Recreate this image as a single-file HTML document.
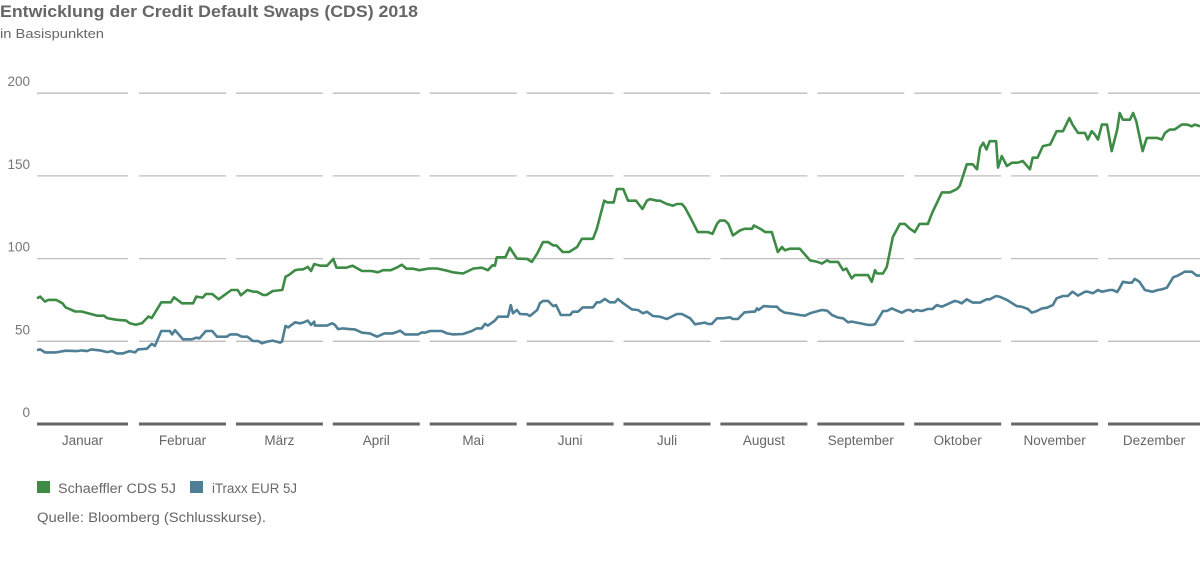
<!DOCTYPE html>
<html><head><meta charset="utf-8"><style>
html,body{margin:0;padding:0;background:#fff;width:1200px;height:580px;overflow:hidden}
svg text{font-family:"Liberation Sans",sans-serif}
</style></head><body>
<svg id="chart" width="1200" height="580" viewBox="0 0 1200 580" xmlns="http://www.w3.org/2000/svg">
<text x="0" y="17" font-size="17" font-weight="bold" fill="#666" textLength="418" lengthAdjust="spacingAndGlyphs">Entwicklung der Credit Default Swaps (CDS) 2018</text>
<text x="0" y="38" font-size="13" fill="#666" textLength="104" lengthAdjust="spacingAndGlyphs">in Basispunkten</text>
<g id="grid"></g><g id="yticks"></g><g id="months"></g><g id="series"></g>
<rect x="37" y="481" width="13" height="12" fill="#3d8b45"/>
<text x="58" y="493" font-size="13.5" fill="#666" textLength="118" lengthAdjust="spacingAndGlyphs">Schaeffler  CDS 5J</text>
<rect x="190" y="481" width="13" height="12" fill="#4f7f94"/>
<text x="212" y="493" font-size="13.5" fill="#666" textLength="85" lengthAdjust="spacingAndGlyphs">iTraxx EUR 5J</text>
<text x="37" y="522" font-size="13.5" fill="#666" textLength="229" lengthAdjust="spacingAndGlyphs">Quelle: Bloomberg (Schlusskurse).</text>
</svg>
<script>
const months=["Januar","Februar","März","April","Mai","Juni","Juli","August","September","Oktober","November","Dezember"];
const yTicks=[0,50,100,150,200];
const schaefflerDays=[0,1,2.5,3.5,6,8,9,12,14,16,19,21,22,25,28,29,31,33,35,36,39,42,43,45.5,49,50,52,53,55,57,61,63,64,66,68,69,71,72,74,77,78,79,81,82.5,83.5,85,86,87,89,91,93,94,97,99,102,105,107,108.6,111,113,114.5,116,118,120,123,125.5,128.7,130.5,133.7,137,139.6,141.5,143,143.7,144.3,147,148.4,150.6,153.8,155.3,157,158.8,160.4,162,163,165,167,169.5,171,174.5,175.7,178,179,181,182,184,185.5,188,190,191.4,192.4,194.6,195.5,197.7,199.6,200.8,202.4,203.3,205,207.4,209.6,210.6,212,213.4,214.3,215.9,217,218.4,220.6,222,224.4,225,227,228.6,230.6,232.5,233.8,234.7,236.3,239.4,242.6,245,246.3,248,248.8,251.4,253,254,255.7,256.7,260.8,262,263,263.6,265.5,266.7,268.6,270.8,272.4,274,275.5,277,279.6,281,284,286.5,288.7,289.6,291.8,293.7,295,296,297,298,299,301,301.6,302.8,304.4,306,307.8,309.4,311.6,312.5,314,315.7,318,320,322,324,325,326.7,328.9,329.8,331,332,333,334.2,335.8,337.3,339,339.8,340.8,343,344,345,347,348.3,351.5,353,354,355.5,357,359.3,361,362.4,363.4,365];
const schaefflerValues=[76,77,74,75,75,73,70.5,68,68,67,65.5,65.5,64,63,62.5,61,60,61,65,64,73.6,73.6,76.6,73,73,77,76.4,78.6,78.6,75.4,81,81,77.8,81,80,80,78,78,80.4,81,89,90,93,93.5,93.5,95,92.5,96.7,95.7,95.7,99.8,94.5,94.5,95.7,92.5,92.5,91.7,93,93,94.7,96.3,93.9,93.9,93,94,94,92.7,91.7,91,94,94.5,93,96,95.7,100.8,100.8,106.6,100,99.8,98,103,110,110,108,108,104,104,107,112,112,118,135,134,134,142,142,135,135,130,135,136,135,135,133,132,133,133,131,125,116,116,116,115,121,123,123,121,114,117,118,118,120,118,116,116,104,107,105,106,106,99,98,97,99,98,98,93,94,88,90,90,86,93,91,91,95,113,121,121,118,116,121,121,128,140,140,142,144,157,157,154,167,170,166,171,171,155,162,156,158,158,159,154,161,161,168,169,177,177,185,181,176,176,172,177,175,172,181,181,165,178,188,184,184,188,183,165,173,173,172,176,178,178,181,181,180,181,180];
const itraxxDays=[0,1,2.5,6,9,12.5,14,15.7,17,19.8,22,23.5,25,27,29,30.8,31.7,34.5,36,37,39,41.7,42.4,43.3,45.8,48.6,50,51,53,55,56.5,59.6,60.6,62.8,64.3,66,67.8,69.4,70.6,72.2,74,76.3,76.9,78,78.8,81,82.5,83.5,85,86,87,87.2,91,92.6,93.5,94.5,96,98,99.8,102,104.5,106.7,109,111.7,114,115.5,119.6,120.8,121.8,123.3,127,128.7,130.5,133.7,136.5,138,139.6,140.6,141.5,143.7,144.7,147.8,148.7,149.4,150.6,151.6,153.8,154.7,157,157.8,158.8,160.4,162,162.9,164.4,167.3,168.2,169.8,171.3,174.5,175.7,176.7,178.2,179.8,181.4,182.3,184,186.7,188.6,190.2,191.4,193.3,195.5,197.7,200.8,202.4,205,206.5,209.6,210.6,211.8,213.4,215.3,217.5,218.4,220,222,224.4,225.3,226,226.5,228,230.6,232.2,233.2,234.7,236.3,239.4,241,242.6,246.3,248,249.5,251.4,253,254.5,255.7,260.8,262,263,265.5,266.7,268.3,269.9,271.4,273,274,275,276,277.7,279.6,281,282.4,284,288,289,290.2,291.8,293.7,296,298,299,301,302,304.4,307.5,309,311,312.2,313.8,315.4,317,318.8,320,322,323.5,325,326.7,328.9,329.8,331.4,333,334.2,336.7,337.6,339,339.8,340.8,342.4,343.6,344.5,346,347.7,350,351.8,353,354.6,356.6,358,360.2,362.4,364,365];
const itraxxValues=[44.7,45.1,43.3,43.3,44.3,44.1,44.5,44.1,45.1,44.5,43.5,44.1,42.7,42.7,44.1,43.3,45.1,45.5,48.4,47.2,56.2,56.2,54.2,56.8,51.2,51.2,52.2,51.8,56.2,56.2,52.8,52.8,54.2,54.2,52.8,52.8,50.2,50.2,48.8,49.8,50.4,49.2,49.8,59.3,58.4,61.5,60.9,61.3,62.5,59.9,61.9,59.5,59.5,60.9,59.9,57.4,57.8,57.4,57.2,55.2,54.8,52.8,54.8,54.8,56.4,54.2,54.2,55.4,55.2,56.2,56.2,54.8,54.2,54.4,56.2,57.8,57.8,60.5,59.5,62.5,64.9,64.9,71.9,66.9,68.9,66.5,66.3,65.3,68.9,73,74.4,74.4,71.3,71.9,65.9,65.9,67.9,67.9,70.5,70.5,73.6,73.6,75.6,73.6,73.6,75.6,73,69.3,68.9,66.9,67.9,65.3,64.9,63.5,66.5,66.5,63.9,60.3,61.3,60.5,60.5,63.9,63.9,64.5,63.5,63.5,67.5,67.9,67.9,69.9,68.9,71.3,70.9,70.9,68.9,67.3,66.9,65.9,65.5,66.9,68.9,68.5,65.9,64.3,63.9,61.5,61.9,59.9,59.9,60.3,68.3,68.3,69.9,68.5,67.3,68.9,68.9,67.9,68.9,68.3,69.5,69.5,71.9,70.9,74.4,74,73,75.4,73.4,73.4,75.4,75.4,77.4,77,75,71.3,70.9,69.5,67.3,68.3,69.9,70.3,71.9,76,77.4,77.4,80,77.6,80,80,79,81,80,81,81,79.8,82.2,86,85.4,85.4,87.7,86,81,80,81,81.4,82.4,88.7,89.7,92.1,92.1,89.7,89.7,87.5];

const NS="http://www.w3.org/2000/svg";
const x0=37,x1=1200,yZero=424,yPerUnit=1.654;
function xScale(d){return x0+d/365*(x1-x0);}
function yScale(v){return yZero-v*yPerUnit;}
function mk(tag,attrs){const e=document.createElementNS(NS,tag);for(const k in attrs)e.setAttribute(k,attrs[k]);return e;}
function segStart(i){return i===0?37:139+96.9*(i-1);}
function segEnd(i){return i===11?1200:(i===0?128:segStart(i)+87);}

const grid=document.getElementById('grid');
yTicks.forEach(t=>{
  months.forEach((m,i)=>{
    const l=mk('line',{x1:segStart(i),x2:segEnd(i),y1:yScale(t),y2:yScale(t),stroke:t===0?'#666':'#bdbdbd','stroke-width':t===0?3:1.3});
    
    
    grid.appendChild(l);
  });
});
const yt=document.getElementById('yticks');
yTicks.forEach(t=>{
  const tx=mk('text',{x:30,y:yScale(t)-7,'text-anchor':'end','font-size':13.5,fill:'#777'});
  
  
  tx.textContent=t;yt.appendChild(tx);
});
const mg=document.getElementById('months');
months.forEach((m,i)=>{
  const tx=mk('text',{x:(segStart(i)+segEnd(i))/2,y:445,'text-anchor':'middle','font-size':13.5,fill:'#666'});
  
  
  tx.textContent=m;mg.appendChild(tx);
});
const sg=document.getElementById('series');
function line(days,vals,color,name){
  const d=days.map((dd,i)=>(i?'L':'M')+xScale(dd).toFixed(1)+','+yScale(vals[i]).toFixed(1)).join(' ');
  const p=mk('path',{d:d,fill:'none',stroke:color,'stroke-width':2.6,'stroke-linejoin':'round'});
  
  
  sg.appendChild(p);
}
line(itraxxDays,itraxxValues,'#4f7f94','itraxx-line');
line(schaefflerDays,schaefflerValues,'#3d8b45','schaeffler-line');
</script>
</body></html>
